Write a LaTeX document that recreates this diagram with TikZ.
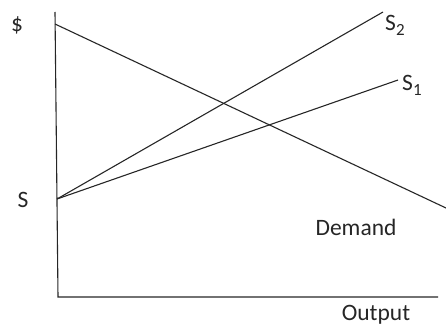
\documentclass[tikz,border=0pt]{standalone}
\usepackage{fontspec}
\setmainfont{Carlito}
\newcommand{\mysub}[1]{{\fontsize{17}{19}\selectfont\raisebox{-5pt}{#1}}}
\begin{document}
\begin{tikzpicture}[x=1pt,y=-1pt,
  ln/.style={line width=1.1pt,color=black!85},
  lbl/.style={inner sep=0pt,font=\fontsize{23.5}{27}\selectfont,text=black!85}]
\useasboundingbox (0,0) rectangle (446,326);
\coordinate (ytop) at (55,12);
\coordinate (orig) at (58,297);
\coordinate (xend) at (438,297);
\coordinate (dtop) at (55,24);
\coordinate (dend) at (446,208);
\coordinate (sp) at (57,199);
\coordinate (s2) at (383,12);
\coordinate (s1) at (398,80);
\draw[ln] (ytop) -- (orig) -- (xend);
\draw[ln] (dtop) -- (dend);
\draw[ln] (sp) -- (s2);
\draw[ln] (sp) -- (s1);
\node[lbl,anchor=base] (dol) at (17,32) {\$};
\node[lbl,anchor=base] (slab) at (23,207) {S};
\node[lbl,anchor=base west] (s2lab) at (385,31) {S\mysub{2}};
\node[lbl,anchor=base west] (s1lab) at (402,91) {S\mysub{1}};
\node[lbl,anchor=base] (dem) at (356,235) {Demand};
\node[lbl,anchor=base] (out) at (376,320) {Output};
\end{tikzpicture}
\end{document}
